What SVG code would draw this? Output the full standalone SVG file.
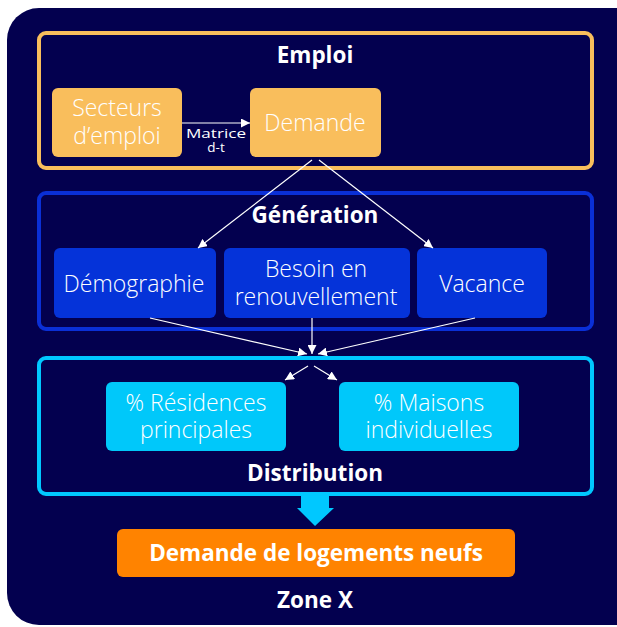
<svg xmlns="http://www.w3.org/2000/svg" width="617" height="627" viewBox="0 0 617 627">
<defs>
<style>
.t{font-family:"Open Sans","Liberation Sans",sans-serif;fill:#fff;text-anchor:middle}
.lt{font-weight:300;font-size:23px}
.bd{font-weight:700;font-size:22.5px}
.sm{font-weight:400;font-size:13.5px}
.con{stroke:#fff;stroke-width:1.2;fill:none;marker-end:url(#ah)}
</style>
<marker id="ah" viewBox="0 0 10 10" refX="10" refY="5" markerWidth="9" markerHeight="9" markerUnits="userSpaceOnUse" orient="auto">
<path d="M0,0 L10,5 L0,10 z" fill="#fff"/>
</marker>
</defs>
<rect x="7" y="8" width="640" height="617" rx="32" fill="#03004f"/>

<g id="emploi">
<rect x="39" y="33" width="553" height="135" rx="7" fill="none" stroke="#f9be5c" stroke-width="4"/>
<text class="t bd" x="315" y="63">Emploi</text>
</g>
<g id="secteurs">
<rect x="52" y="88" width="130" height="69" rx="6" fill="#f9be5c"/>
<text class="t lt"><tspan x="117" y="116">Secteurs</tspan><tspan x="117" y="144">d’emploi</tspan></text>
</g>
<g id="demande">
<rect x="250" y="88" width="131" height="69" rx="6" fill="#f9be5c"/>
<text class="t lt" x="315" y="131">Demande</text>
</g>

<g id="generation">
<rect x="39" y="193" width="553" height="136" rx="7" fill="none" stroke="#0a2fd6" stroke-width="4"/>
<text class="t bd" x="315" y="223">Génération</text>
</g>
<g id="demographie">
<rect x="54" y="248" width="162" height="70" rx="6" fill="#0533d9"/>
<text class="t lt" x="134" y="292">Démographie</text>
</g>
<g id="besoin">
<rect x="224" y="248" width="186" height="70" rx="6" fill="#0533d9"/>
<text class="t lt"><tspan x="316" y="277">Besoin en</tspan><tspan x="316" y="305">renouvellement</tspan></text>
</g>
<g id="vacance">
<rect x="417" y="248" width="130" height="70" rx="6" fill="#0533d9"/>
<text class="t lt" x="482" y="292">Vacance</text>
</g>

<g id="distribution">
<rect x="39" y="358" width="553" height="136" rx="7" fill="none" stroke="#00c8ff" stroke-width="4"/>
<text class="t bd" x="315" y="481">Distribution</text>
</g>
<g id="residences">
<rect x="106" y="382" width="180" height="69" rx="6" fill="#00c8fa"/>
<text class="t lt"><tspan x="196" y="411">% Résidences</tspan><tspan x="196" y="438">principales</tspan></text>
</g>
<g id="maisons">
<rect x="339" y="382" width="180" height="69" rx="6" fill="#00c8fa"/>
<text class="t lt"><tspan x="429" y="411">% Maisons</tspan><tspan x="429" y="438">individuelles</tspan></text>
</g>

<g id="resultat">
<rect x="117" y="529" width="398" height="48" rx="6" fill="#ff8300"/>
<text class="t bd" x="316" y="561">Demande de logements neufs</text>
</g>
<g id="zone">
<text class="t bd" x="315" y="608">Zone X</text>
</g>

<g id="connectors">
<line class="con" x1="182" y1="123" x2="250" y2="123"/>
<text class="t sm"><tspan x="216" y="138" textLength="60" lengthAdjust="spacingAndGlyphs">Matrice</tspan><tspan x="216" y="152">d-t</tspan></text>
<line class="con" x1="312" y1="160" x2="198" y2="248"/>
<line class="con" x1="319" y1="160" x2="433" y2="248"/>
<line class="con" x1="150" y1="318" x2="307" y2="354"/>
<line class="con" x1="312" y1="318" x2="312" y2="354"/>
<line class="con" x1="475" y1="318" x2="318" y2="354"/>
<line class="con" x1="308" y1="366" x2="285" y2="380"/>
<line class="con" x1="314" y1="366" x2="337" y2="380"/>
<path d="M301,495 H329 V508 H334 L315,526 L297,508 H301 Z" fill="#00c8ff"/>
</g>
</svg>
